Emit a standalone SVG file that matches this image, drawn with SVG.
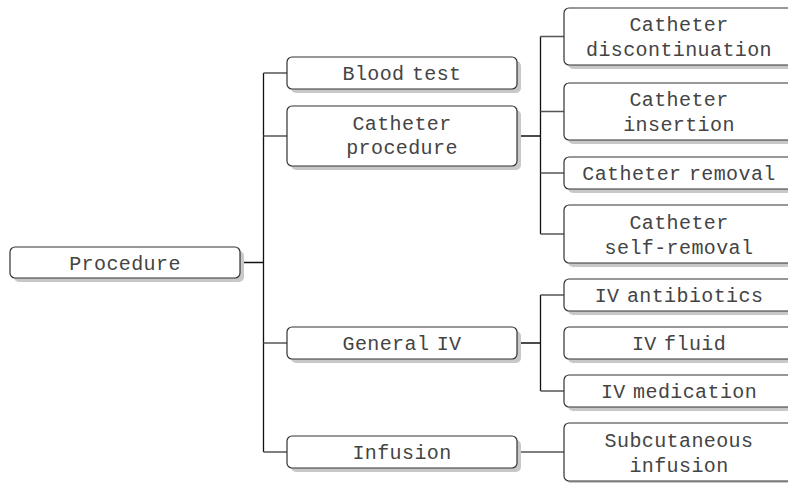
<svg xmlns="http://www.w3.org/2000/svg" width="788" height="483" viewBox="0 0 788 483">
<defs>
<style>
.sh{fill:#c8c8c8}
.bx{fill:#fff;stroke:#333;stroke-width:1.2}
.t{font-family:"Liberation Mono","Courier New",monospace;font-size:20px;letter-spacing:0.4px;fill:#444;text-anchor:middle;word-spacing:-5px}
.stem{stroke:#111;stroke-width:1.3;fill:none}
.br{stroke:#555;stroke-width:1.3;fill:none}
</style>
</defs>
<rect width="788" height="483" fill="#fff"/>
<g id="connectors">
<path class="stem" d="M240,262.5H263.5M263.5,73V452"/>
<path class="br" d="M263.5,73H287M263.5,136H287M263.5,343H287M263.5,452H287"/>
<path class="stem" d="M517,136H540.5M540.5,36.5V234"/>
<path class="br" d="M540.5,36.5H564M540.5,111.5H564M540.5,173H564M540.5,234H564"/>
<path class="stem" d="M517,343H540.5M540.5,295V391"/>
<path class="br" d="M540.5,295H564M540.5,391H564"/>
<path class="br" d="M517,452H564"/>
</g>
<g id="procedure"><rect class="sh" x="14" y="251" width="230" height="31" rx="5"/><rect class="bx" x="10" y="247" width="230" height="31" rx="5"/><text class="t" x="125" y="269.5">Procedure</text></g>
<g id="blood-test"><rect class="sh" x="291" y="61" width="230" height="32" rx="5"/><rect class="bx" x="287" y="57" width="230" height="32" rx="5"/><text class="t" x="402" y="80">Blood test</text></g>
<g id="catheter-procedure"><rect class="sh" x="291" y="110" width="230" height="60" rx="5"/><rect class="bx" x="287" y="106" width="230" height="60" rx="5"/><text class="t" x="402" y="129.5">Catheter</text><text class="t" x="402" y="154">procedure</text></g>
<g id="general-iv"><rect class="sh" x="291" y="331" width="230" height="32" rx="5"/><rect class="bx" x="287" y="327" width="230" height="32" rx="5"/><text class="t" x="402" y="350">General IV</text></g>
<g id="infusion"><rect class="sh" x="291" y="440" width="230" height="32" rx="5"/><rect class="bx" x="287" y="436" width="230" height="32" rx="5"/><text class="t" x="402" y="459">Infusion</text></g>
<g id="catheter-discontinuation"><rect class="sh" x="568" y="12" width="230" height="57" rx="5"/><rect class="bx" x="564" y="8" width="230" height="57" rx="5"/><text class="t" x="679" y="31">Catheter</text><text class="t" x="679" y="56">discontinuation</text></g>
<g id="catheter-insertion"><rect class="sh" x="568" y="87" width="230" height="57" rx="5"/><rect class="bx" x="564" y="83" width="230" height="57" rx="5"/><text class="t" x="679" y="106">Catheter</text><text class="t" x="679" y="131">insertion</text></g>
<g id="catheter-removal"><rect class="sh" x="568" y="161" width="230" height="32" rx="5"/><rect class="bx" x="564" y="157" width="230" height="32" rx="5"/><text class="t" x="679" y="180">Catheter removal</text></g>
<g id="catheter-self-removal"><rect class="sh" x="568" y="209" width="230" height="58" rx="5"/><rect class="bx" x="564" y="205" width="230" height="58" rx="5"/><text class="t" x="679" y="228.5">Catheter</text><text class="t" x="679" y="253.5">self-removal</text></g>
<g id="iv-antibiotics"><rect class="sh" x="568" y="283" width="230" height="32" rx="5"/><rect class="bx" x="564" y="279" width="230" height="32" rx="5"/><text class="t" x="679" y="302">IV antibiotics</text></g>
<g id="iv-fluid"><rect class="sh" x="568" y="331" width="230" height="32" rx="5"/><rect class="bx" x="564" y="327" width="230" height="32" rx="5"/><text class="t" x="679" y="350">IV fluid</text></g>
<g id="iv-medication"><rect class="sh" x="568" y="379" width="230" height="32" rx="5"/><rect class="bx" x="564" y="375" width="230" height="32" rx="5"/><text class="t" x="679" y="398">IV medication</text></g>
<g id="subcutaneous-infusion"><rect class="sh" x="568" y="427" width="230" height="58" rx="5"/><rect class="bx" x="564" y="423" width="230" height="58" rx="5"/><text class="t" x="679" y="446.5">Subcutaneous</text><text class="t" x="679" y="471.5">infusion</text></g>
</svg>
